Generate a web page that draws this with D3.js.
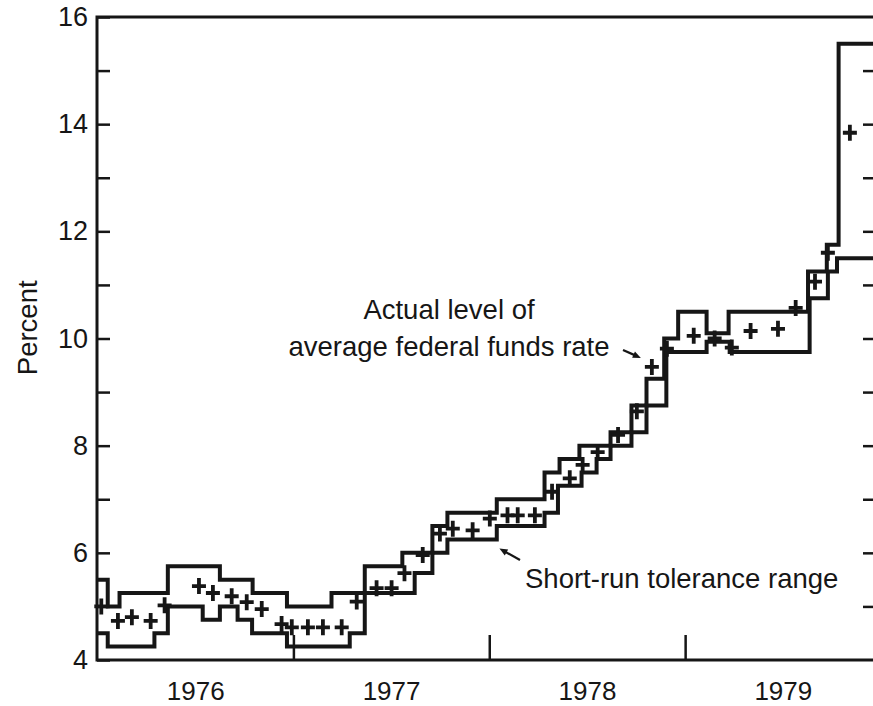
<!DOCTYPE html>
<html>
<head>
<meta charset="utf-8">
<script src="https://cdn.jsdelivr.net/npm/d3@7"></script>
<style>
  body { margin: 0; background: #fff; }
  svg { display: block; font-family: "Liberation Sans", Arial, sans-serif; }
  .axis .domain { display: none; }
  .axis line { stroke: #161616; stroke-width: 2.5; }
  .axis text { fill: #161616; }
  .yaxis text { font-size: 27px; }
  .xaxis text { font-size: 26px; }
  .note { font-size: 27.5px; fill: #161616; }
</style>
</head>
<body>
<svg width="873" height="706"></svg>
<script>
// upper edge of the short-run tolerance range (value holds until the next date)
var upperDates = ["1976-01-01", "1976-01-21", "1976-02-12", "1976-05-12", "1976-08-17", "1976-10-17",
  "1976-12-20", "1977-03-13", "1977-05-14", "1977-07-23", "1977-09-17", "1977-10-15",
  "1978-01-15", "1978-04-14", "1978-05-12", "1978-06-18", "1978-08-15", "1978-09-23",
  "1978-10-21", "1978-11-23", "1978-12-19", "1979-02-10", "1979-03-23", "1979-08-18",
  "1979-09-22", "1979-10-14"];
var upperRates = [5.5, 5.0, 5.25, 5.75, 5.5, 5.25,
  5.0, 5.25, 5.75, 6.0, 6.5, 6.75,
  7.0, 7.5, 7.75, 8.0, 8.25, 8.75,
  9.25, 10.0, 10.5, 10.1, 10.5, 11.25,
  11.75, 15.5];

// lower edge of the range
var lowerDates = ["1976-01-01", "1976-01-21", "1976-04-17", "1976-05-12", "1976-07-16", "1976-08-17",
  "1976-09-19", "1976-10-16", "1976-12-20", "1977-04-16", "1977-05-14", "1977-08-15",
  "1977-09-17", "1977-10-15", "1978-01-15", "1978-04-14", "1978-05-09", "1978-06-22",
  "1978-07-20", "1978-08-15", "1978-09-23", "1978-10-21", "1978-11-27", "1979-02-10",
  "1979-03-25", "1979-08-21", "1979-09-24", "1979-10-11"];
var lowerRates = [4.5, 4.25, 4.5, 5.0, 4.75, 5.0,
  4.75, 4.5, 4.25, 4.5, 5.25, 5.625,
  6.0, 6.25, 6.5, 6.75, 7.25, 7.5,
  7.75, 8.0, 8.25, 8.75, 9.75, 9.94,
  9.75, 10.75, 11.25, 11.5];

// actual average federal funds rate (the + marks)
var actualDates = ["1976-01-09", "1976-02-09", "1976-03-06", "1976-04-10", "1976-05-06", "1976-07-09",
  "1976-08-04", "1976-09-08", "1976-10-06", "1976-11-03", "1976-12-10", "1976-12-29",
  "1977-01-28", "1977-02-25", "1977-04-01", "1977-04-29", "1977-06-05", "1977-07-03",
  "1977-07-27", "1977-08-30", "1977-10-01", "1977-10-25", "1977-12-01", "1978-01-02",
  "1978-02-04", "1978-02-23", "1978-03-27", "1978-04-28", "1978-05-31", "1978-06-24",
  "1978-07-22", "1978-08-29", "1978-10-03", "1978-10-31", "1978-11-28", "1979-01-17",
  "1979-02-25", "1979-03-29", "1979-05-03", "1979-06-23", "1979-07-26", "1979-08-31",
  "1979-09-24", "1979-11-04"];
var actualRates = [5.0, 4.73, 4.8, 4.73, 5.02, 5.38,
  5.25, 5.19, 5.08, 4.95, 4.67, 4.61,
  4.61, 4.61, 4.61, 5.09, 5.34, 5.34,
  5.62, 5.96, 6.36, 6.45, 6.42, 6.64,
  6.7, 6.7, 6.7, 7.14, 7.39, 7.64,
  7.88, 8.2, 8.64, 9.47, 9.81, 10.05,
  10.0, 9.83, 10.14, 10.18, 10.57, 11.06,
  11.6, 13.84];

var yearLabels = ["1976", "1977", "1978", "1979"];
var percentTicks = d3.range(4, 17); // a tick at every point, labels on even ones

var parse = d3.timeParse("%Y-%m-%d");
var svg = d3.select("svg");
var ink = "#161616";

var x = d3.scaleTime()
  .domain([new Date(1976, 0, 1), new Date(1980, 0, 1)])
  .range([97, 881]);
var y = d3.scaleLinear()
  .domain([4, 16])
  .range([660, 17]);

// turn a date/value list into step points, carried to the end of 1979
function steps(dates, rates) {
  var pts = dates.map(function(d, i) { return { date: parse(d), value: rates[i] }; });
  pts.push({ date: new Date(1980, 0, 1), value: rates[rates.length - 1] });
  return pts;
}

var stepLine = d3.line()
  .x(function(d) { return x(d.date); })
  .y(function(d) { return y(d.value); })
  .curve(d3.curveStepAfter);

// frame
var x0 = x.range()[0], x1 = x.range()[1], yTop = y(16), yBot = y(4);
svg.append("path")
  .attr("d", "M" + x1 + "," + yTop + "H" + x0 + "V" + yBot + "H" + x1)
  .attr("fill", "none")
  .attr("stroke", ink)
  .attr("stroke-width", 3);

// left axis: inward ticks, labels on even numbers
svg.append("g")
  .attr("class", "axis yaxis")
  .attr("transform", "translate(" + x0 + ",0)")
  .call(d3.axisLeft(y)
    .tickValues(percentTicks)
    .tickSizeInner(-13)
    .tickSizeOuter(0)
    .tickPadding(9)
    .tickFormat(function(d) { return d % 2 === 0 ? d : ""; }));

// right axis, only ticks (the axis itself is just off the page)
svg.append("g")
  .attr("class", "axis")
  .attr("transform", "translate(" + x1 + ",0)")
  .call(d3.axisRight(y)
    .tickValues(percentTicks.slice(1, -1))
    .tickSizeInner(-18)
    .tickSizeOuter(0)
    .tickFormat(""));

// year boundaries
svg.append("g")
  .attr("class", "axis")
  .attr("transform", "translate(0," + yBot + ")")
  .call(d3.axisBottom(x)
    .tickValues(yearLabels.slice(1).map(function(yr) { return new Date(+yr, 0, 1); }))
    .tickSizeInner(-25)
    .tickSizeOuter(0)
    .tickFormat(""));

// year names centred in each year
svg.append("g")
  .attr("class", "axis xaxis")
  .attr("transform", "translate(0," + yBot + ")")
  .call(d3.axisBottom(x)
    .tickValues(yearLabels.map(function(yr) { return new Date(+yr, 6, 2); }))
    .tickSize(0)
    .tickPadding(22)
    .tickFormat(d3.timeFormat("%Y")));

svg.append("text")
  .attr("class", "note")
  .attr("transform", "translate(27," + y(10.2) + ") rotate(-90)")
  .attr("text-anchor", "middle")
  .attr("dy", "0.35em")
  .text("Percent");

// tolerance range
[steps(upperDates, upperRates), steps(lowerDates, lowerRates)].forEach(function(pts) {
  svg.append("path")
    .datum(pts)
    .attr("d", stepLine)
    .attr("fill", "none")
    .attr("stroke", ink)
    .attr("stroke-width", 4)
    .attr("stroke-linejoin", "miter");
});

// actual funds rate marks
svg.append("g")
  .selectAll("path")
  .data(actualDates.map(function(d, i) { return { date: parse(d), value: actualRates[i] }; }))
  .enter().append("path")
  .attr("transform", function(d) { return "translate(" + x(d.date) + "," + y(d.value) + ")"; })
  .attr("d", "M-7,0H7M0,-8V8")
  .attr("stroke", ink)
  .attr("stroke-width", 3.8);

// notes
svg.append("text").attr("class", "note").attr("x", 449).attr("y", 319)
  .attr("text-anchor", "middle").text("Actual level of");
svg.append("text").attr("class", "note").attr("x", 449).attr("y", 356)
  .attr("text-anchor", "middle").text("average federal funds rate");
svg.append("text").attr("class", "note").attr("x", 525).attr("y", 588).text("Short-run tolerance range");

function arrow(fromX, fromY, toX, toY) {
  var a = Math.atan2(toY - fromY, toX - fromX);
  svg.append("line")
    .attr("x1", fromX).attr("y1", fromY)
    .attr("x2", toX - 5 * Math.cos(a)).attr("y2", toY - 5 * Math.sin(a))
    .attr("stroke", ink).attr("stroke-width", 2.2);
  var head = [[toX, toY],
    [toX - 8 * Math.cos(a) + 3.5 * Math.sin(a), toY - 8 * Math.sin(a) - 3.5 * Math.cos(a)],
    [toX - 8 * Math.cos(a) - 3.5 * Math.sin(a), toY - 8 * Math.sin(a) + 3.5 * Math.cos(a)]];
  svg.append("path").attr("d", "M" + head.join("L") + "Z").attr("fill", ink);
}
// point at the Oct 1978 mark and at the lower edge in early 1978
arrow(623, 350, x(parse("1978-10-31")) - 11, y(9.47) - 9);
arrow(520, 560, x(parse("1978-01-20")), y(6.08));
</script>
</body>
</html>
